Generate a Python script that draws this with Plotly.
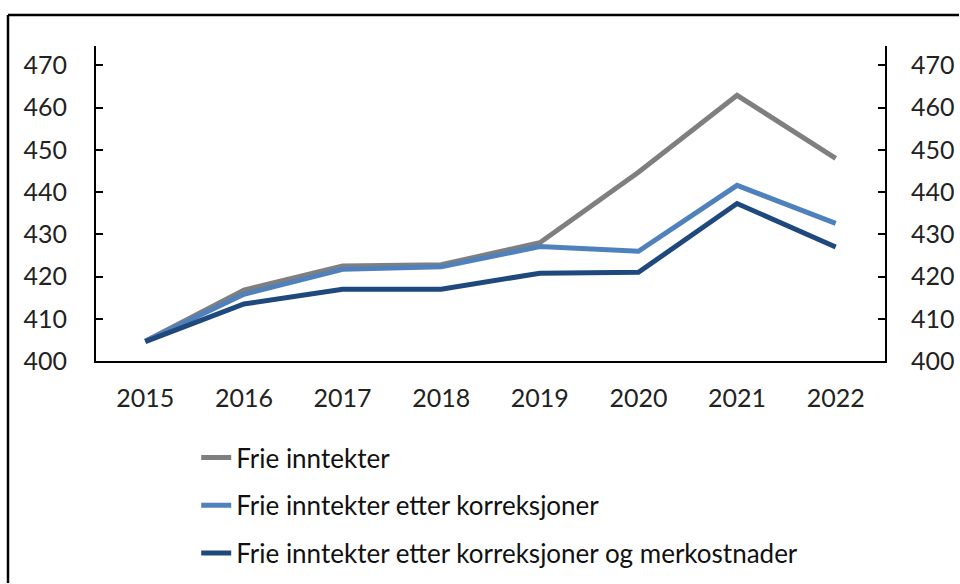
import plotly.graph_objects as go

years = ["2015", "2016", "2017", "2018", "2019", "2020", "2021", "2022"]
series_names = [
    "Frie inntekter",
    "Frie inntekter etter korreksjoner",
    "Frie inntekter etter korreksjoner og merkostnader",
]
frie = [404.7, 416.8, 422.5, 422.8, 428.0, 444.7, 462.9, 448.0]
korr = [404.7, 415.8, 421.7, 422.3, 427.1, 426.0, 441.6, 432.6]
merk = [404.6, 413.5, 417.0, 417.0, 420.8, 421.0, 437.3, 427.0]
y_ticks = [400, 410, 420, 430, 440, 450, 460, 470]
colors = ["#7F7F7F", "#4F81BD", "#1F497D"]

FONT = "Lato"
W, H = 960, 584
fig = go.Figure()
for i, (name, vals) in enumerate(zip(series_names, [frie, korr, merk])):
    fig.add_trace(go.Scatter(
        x=years, y=vals, mode="lines", name=name,
        line=dict(color=colors[i], width=5),
        legendgroup=f"g{i}",
    ))
# invisible trace to activate right axis
fig.add_trace(go.Scatter(x=years, y=frie, yaxis="y2", mode="lines",
                         line=dict(width=0, color="rgba(0,0,0,0)"),
                         showlegend=False, hoverinfo="skip"))

yax = dict(range=[400, 474.6], tickvals=y_ticks, showgrid=False, zeroline=False,
           showline=True, linecolor="black", linewidth=2,
           ticks="inside", ticklen=7, tickwidth=2, tickcolor="black",
           tickfont=dict(family=FONT, size=25, color="#222"),
           ticklabelstandoff=22)
PL, PT, PW, PH = 96, 46, 789, 315
fig.update_layout(
    width=W, height=H,
    margin=dict(l=PL, r=W - PL - PW, t=PT, b=H - PT - PH, autoexpand=False),
    paper_bgcolor="white", plot_bgcolor="white",
    xaxis=dict(type="category", range=[-0.5, 7.5], showgrid=False, zeroline=False,
               showline=True, linecolor="black", linewidth=2, ticks="",
               tickfont=dict(family=FONT, size=25, color="#222"),
               ticklabelstandoff=14),
    yaxis=yax,
    yaxis2=dict(yax, overlaying="y", side="right", ticklabelstandoff=19),
    legend=dict(x=0.127, y=-0.232, xanchor="left", yanchor="top",
                font=dict(family=FONT, size=26, color="#111"),
                tracegroupgap=11, bgcolor="rgba(0,0,0,0)"),
    shapes=[
        dict(type="line", xref="paper", yref="paper",
             x0=(8 - PL) / PW, x1=(W - 1 - PL) / PW,
             y0=(PT + PH - 15) / PH, y1=(PT + PH - 15) / PH,
             line=dict(color="black", width=2.5)),
        dict(type="line", xref="paper", yref="paper",
             x0=(8 - PL) / PW, x1=(8 - PL) / PW,
             y0=(PT + PH - 15) / PH, y1=(PT + PH - H + 1) / PH,
             line=dict(color="black", width=2.5)),
    ],
)
fig.write_html(
    "out.html", config={"displayModeBar": False},
    post_script="document.body.style.margin='0';",
)
